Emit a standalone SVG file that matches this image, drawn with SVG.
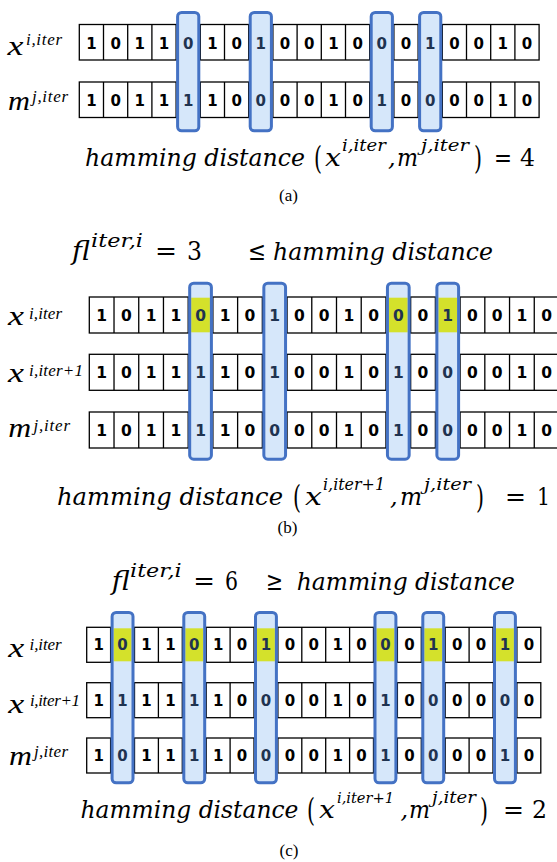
<svg xmlns="http://www.w3.org/2000/svg" xmlns:xlink="http://www.w3.org/1999/xlink" width="557" height="862" viewBox="0 0 557 862">
<style>
.cell{fill:#fff;stroke:#000;stroke-width:1.3}
.ln{fill:none;stroke:#000;stroke-width:1.3}
.hl{fill:#d6e7fa}
.hls{fill:none;stroke:#4472c4;stroke-width:3}
.yl{fill:#d4e12b}
.dg{font-family:"DejaVu Sans",sans-serif;font-weight:bold;text-anchor:middle;fill:#000}
.hd{fill:#1f3350}
.lb{font-family:"Liberation Serif",serif;font-style:italic;fill:#000}
.mt{font-family:"DejaVu Serif",serif;font-style:italic;fill:#000}
.up{font-family:"DejaVu Serif",serif;fill:#000}
.cap{font-family:"Liberation Serif",serif;text-anchor:middle;font-size:17px;fill:#000}
</style>
<defs>
<g id="rowA"><rect class="cell" x="79.3" y="0" width="459.8" height="35.5"/><path class="ln" d="M103.5 0V35.5M127.7 0V35.5M151.9 0V35.5M176.1 0V35.5M200.3 0V35.5M224.5 0V35.5M248.7 0V35.5M272.9 0V35.5M297.1 0V35.5M321.3 0V35.5M345.5 0V35.5M369.7 0V35.5M393.9 0V35.5M418.1 0V35.5M442.3 0V35.5M466.5 0V35.5M490.7 0V35.5M514.9 0V35.5"/></g>
<g id="rowB"><rect class="cell" x="89.3" y="0" width="469.7" height="36"/><path class="ln" d="M114.02 0V36M138.74 0V36M163.46 0V36M188.18 0V36M212.9 0V36M237.62 0V36M262.34 0V36M287.06 0V36M311.78 0V36M336.5 0V36M361.22 0V36M385.94 0V36M410.66 0V36M435.38 0V36M460.1 0V36M484.82 0V36M509.54 0V36M534.26 0V36"/></g>
<g id="rowC"><rect class="cell" x="86.7" y="0" width="454.1" height="35"/><path class="ln" d="M110.6 0V35M134.5 0V35M158.4 0V35M182.3 0V35M206.2 0V35M230.1 0V35M254 0V35M277.9 0V35M301.8 0V35M325.7 0V35M349.6 0V35M373.5 0V35M397.4 0V35M421.3 0V35M445.2 0V35M469.1 0V35M493 0V35M516.9 0V35"/></g>
</defs>
<rect width="557" height="862" fill="#fff"/>

<!-- ===== Panel (a) ===== -->
<g id="panel-a">
<g id="a-row-x">
<use xlink:href="#rowA" y="24.5"/>
</g>
<g id="a-row-m">
<use xlink:href="#rowA" y="82"/>
</g>
<g id="a-highlight-fill">
<rect class="hl" x="177.6" y="12.5" width="21.2" height="118.3" rx="4"/>
<rect class="hl" x="250.2" y="12.5" width="21.2" height="118.3" rx="4"/>
<rect class="hl" x="371.2" y="12.5" width="21.2" height="118.3" rx="4"/>
<rect class="hl" x="419.6" y="12.5" width="21.2" height="118.3" rx="4"/>
</g>
<g id="a-digits" font-size="15">
<text class="dg" y="48.5"><tspan x="91.4 115.6 139.8 164">1011</tspan><tspan class="hd" x="188.2">0</tspan><tspan x="212.4 236.6">10</tspan><tspan class="hd" x="260.8">1</tspan><tspan x="285 309.2 333.4 357.6">0010</tspan><tspan class="hd" x="381.8">0</tspan><tspan x="406">0</tspan><tspan class="hd" x="430.2">1</tspan><tspan x="454.4 478.6 502.8 527">0010</tspan></text>
<text class="dg" y="105.5"><tspan x="91.4 115.6 139.8 164">1011</tspan><tspan class="hd" x="188.2">1</tspan><tspan x="212.4 236.6">10</tspan><tspan class="hd" x="260.8">0</tspan><tspan x="285 309.2 333.4 357.6">0010</tspan><tspan class="hd" x="381.8">1</tspan><tspan x="406">0</tspan><tspan class="hd" x="430.2">0</tspan><tspan x="454.4 478.6 502.8 527">0010</tspan></text>
</g>
<g id="a-highlight-stroke">
<rect class="hls" x="177.6" y="12.5" width="21.2" height="118.3" rx="4"/>
<rect class="hls" x="250.2" y="12.5" width="21.2" height="118.3" rx="4"/>
<rect class="hls" x="371.2" y="12.5" width="21.2" height="118.3" rx="4"/>
<rect class="hls" x="419.6" y="12.5" width="21.2" height="118.3" rx="4"/>
</g>
<g id="a-labels">
<text class="lb" x="7.5" y="55" font-size="28" textLength="16" lengthAdjust="spacingAndGlyphs">x</text>
<text class="lb" x="26" y="45" font-size="17" textLength="36">i,iter</text>
<text class="lb" x="8" y="110" font-size="27" textLength="22" lengthAdjust="spacingAndGlyphs">m</text>
<text class="lb" x="32" y="102" font-size="17" textLength="36">j,iter</text>
</g>
<g id="a-formula">
<text class="mt" x="85" y="166" font-size="24" textLength="220" lengthAdjust="spacingAndGlyphs">hamming distance</text>
<text class="up" x="314" y="168.5" font-size="31" textLength="8" lengthAdjust="spacingAndGlyphs">(</text>
<text class="mt" x="325" y="166" font-size="24" textLength="16" lengthAdjust="spacingAndGlyphs">x</text>
<text class="mt" x="342" y="151" font-size="17" textLength="44" lengthAdjust="spacingAndGlyphs">i,iter</text>
<text class="mt" x="388" y="166" font-size="24">,</text>
<text class="mt" x="397" y="166" font-size="24" textLength="21" lengthAdjust="spacingAndGlyphs">m</text>
<text class="mt" x="421" y="151" font-size="17" textLength="48" lengthAdjust="spacingAndGlyphs">j,iter</text>
<text class="up" x="474" y="168.5" font-size="31" textLength="8" lengthAdjust="spacingAndGlyphs">)</text>
<text class="up" x="494" y="166" font-size="24" textLength="18" lengthAdjust="spacingAndGlyphs">=</text>
<text class="up" x="520" y="166" font-size="24" textLength="15" lengthAdjust="spacingAndGlyphs">4</text>
</g>
<text id="a-caption" class="cap" x="288.5" y="201">(a)</text>
</g>

<!-- ===== Panel (b) ===== -->
<g id="panel-b">
<g id="b-title">
<text class="mt" x="72" y="260" font-size="26" textLength="18" lengthAdjust="spacingAndGlyphs">fl</text>
<text class="mt" x="91" y="247" font-size="18" textLength="52" lengthAdjust="spacingAndGlyphs">iter,i</text>
<text class="up" x="155" y="260" font-size="26" textLength="22" lengthAdjust="spacingAndGlyphs">=</text>
<text class="up" x="187" y="260" font-size="26" textLength="15" lengthAdjust="spacingAndGlyphs">3</text>
<text class="up" x="248" y="260" font-size="26" textLength="18" lengthAdjust="spacingAndGlyphs">≤</text>
<text class="mt" x="273" y="260" font-size="24" textLength="220" lengthAdjust="spacingAndGlyphs">hamming distance</text>
</g>
<g id="b-row-x"><use xlink:href="#rowB" y="297"/></g>
<g id="b-row-x1"><use xlink:href="#rowB" y="354.3"/></g>
<g id="b-row-m"><use xlink:href="#rowB" y="412"/></g>
<g id="b-highlight-fill">
<rect class="hl" x="189.68" y="283.2" width="21.72" height="176" rx="4"/>
<rect class="hl" x="263.84" y="283.2" width="21.72" height="176" rx="4"/>
<rect class="hl" x="387.44" y="283.2" width="21.72" height="176" rx="4"/>
<rect class="hl" x="436.88" y="283.2" width="21.72" height="176" rx="4"/>
</g>
<g id="b-flipped">
<rect class="yl" x="191.18" y="297.7" width="18.72" height="34.6"/>
<rect class="yl" x="388.94" y="297.7" width="18.72" height="34.6"/>
<rect class="yl" x="438.38" y="297.7" width="18.72" height="34.6"/>
</g>
<g id="b-digits" font-size="15.5">
<text class="dg" y="321"><tspan x="101.66 126.38 151.1 175.82">1011</tspan><tspan class="hd" x="200.54">0</tspan><tspan x="225.26 249.98">10</tspan><tspan class="hd" x="274.7">1</tspan><tspan x="299.42 324.14 348.86 373.58">0010</tspan><tspan class="hd" x="398.3">0</tspan><tspan x="423.02">0</tspan><tspan class="hd" x="447.74">1</tspan><tspan x="472.46 497.18 521.9 546.62">0010</tspan></text>
<text class="dg" y="378"><tspan x="101.66 126.38 151.1 175.82">1011</tspan><tspan class="hd" x="200.54">1</tspan><tspan x="225.26 249.98">10</tspan><tspan class="hd" x="274.7">1</tspan><tspan x="299.42 324.14 348.86 373.58">0010</tspan><tspan class="hd" x="398.3">1</tspan><tspan x="423.02">0</tspan><tspan class="hd" x="447.74">0</tspan><tspan x="472.46 497.18 521.9 546.62">0010</tspan></text>
<text class="dg" y="435.8"><tspan x="101.66 126.38 151.1 175.82">1011</tspan><tspan class="hd" x="200.54">1</tspan><tspan x="225.26 249.98">10</tspan><tspan class="hd" x="274.7">0</tspan><tspan x="299.42 324.14 348.86 373.58">0010</tspan><tspan class="hd" x="398.3">1</tspan><tspan x="423.02">0</tspan><tspan class="hd" x="447.74">0</tspan><tspan x="472.46 497.18 521.9 546.62">0010</tspan></text>
</g>
<g id="b-highlight-stroke">
<rect class="hls" x="189.68" y="283.2" width="21.72" height="176" rx="4"/>
<rect class="hls" x="263.84" y="283.2" width="21.72" height="176" rx="4"/>
<rect class="hls" x="387.44" y="283.2" width="21.72" height="176" rx="4"/>
<rect class="hls" x="436.88" y="283.2" width="21.72" height="176" rx="4"/>
</g>
<g id="b-labels">
<text class="lb" x="8" y="324.5" font-size="28" textLength="16" lengthAdjust="spacingAndGlyphs">x</text>
<text class="lb" x="29" y="319" font-size="17" textLength="33">i,iter</text>
<text class="lb" x="8" y="381.5" font-size="28" textLength="16" lengthAdjust="spacingAndGlyphs">x</text>
<text class="lb" x="29" y="376" font-size="17" textLength="54">i,iter+1</text>
<text class="lb" x="8.3" y="436.5" font-size="27" textLength="23" lengthAdjust="spacingAndGlyphs">m</text>
<text class="lb" x="33.5" y="431" font-size="17" textLength="36.5">j,iter</text>
</g>
<g id="b-formula">
<text class="mt" x="57" y="505" font-size="24" textLength="226" lengthAdjust="spacingAndGlyphs">hamming distance</text>
<text class="up" x="293" y="507.5" font-size="31" textLength="8" lengthAdjust="spacingAndGlyphs">(</text>
<text class="mt" x="305" y="505" font-size="24" textLength="17" lengthAdjust="spacingAndGlyphs">x</text>
<text class="mt" x="323" y="490" font-size="16" textLength="62" lengthAdjust="spacingAndGlyphs">i,iter+1</text>
<text class="mt" x="390" y="505" font-size="24">,</text>
<text class="mt" x="400" y="505" font-size="24" textLength="22" lengthAdjust="spacingAndGlyphs">m</text>
<text class="mt" x="424" y="490" font-size="17" textLength="47" lengthAdjust="spacingAndGlyphs">j,iter</text>
<text class="up" x="476" y="507.5" font-size="31" textLength="8" lengthAdjust="spacingAndGlyphs">)</text>
<text class="up" x="505" y="505" font-size="24" textLength="21" lengthAdjust="spacingAndGlyphs">=</text>
<text class="up" x="537" y="505" font-size="24" textLength="13" lengthAdjust="spacingAndGlyphs">1</text>
</g>
<text id="b-caption" class="cap" x="287.5" y="533">(b)</text>
</g>

<!-- ===== Panel (c) ===== -->
<g id="panel-c">
<g id="c-title">
<text class="mt" x="111.7" y="590" font-size="26" textLength="18" lengthAdjust="spacingAndGlyphs">fl</text>
<text class="mt" x="130" y="577" font-size="18" textLength="51.7" lengthAdjust="spacingAndGlyphs">iter,i</text>
<text class="up" x="193.3" y="590" font-size="26" textLength="21.7" lengthAdjust="spacingAndGlyphs">=</text>
<text class="up" x="225" y="590" font-size="26" textLength="13" lengthAdjust="spacingAndGlyphs">6</text>
<text class="up" x="266" y="590" font-size="26" textLength="17" lengthAdjust="spacingAndGlyphs">≥</text>
<text class="mt" x="296.7" y="590" font-size="24" textLength="218.3" lengthAdjust="spacingAndGlyphs">hamming distance</text>
</g>
<g id="c-row-x"><use xlink:href="#rowC" y="627.3"/></g>
<g id="c-row-x1"><use xlink:href="#rowC" y="682.7"/></g>
<g id="c-row-m"><use xlink:href="#rowC" y="738"/></g>
<g id="c-highlight-fill">
<rect class="hl" x="112.1" y="612.5" width="20.9" height="170.3" rx="4"/>
<rect class="hl" x="183.8" y="612.5" width="20.9" height="170.3" rx="4"/>
<rect class="hl" x="255.5" y="612.5" width="20.9" height="170.3" rx="4"/>
<rect class="hl" x="375" y="612.5" width="20.9" height="170.3" rx="4"/>
<rect class="hl" x="422.8" y="612.5" width="20.9" height="170.3" rx="4"/>
<rect class="hl" x="494.5" y="612.5" width="20.9" height="170.3" rx="4"/>
</g>
<g id="c-flipped">
<rect class="yl" x="113.6" y="628.3" width="17.9" height="33"/>
<rect class="yl" x="185.3" y="628.3" width="17.9" height="33"/>
<rect class="yl" x="257" y="628.3" width="17.9" height="33"/>
<rect class="yl" x="376.5" y="628.3" width="17.9" height="33"/>
<rect class="yl" x="424.3" y="628.3" width="17.9" height="33"/>
<rect class="yl" x="496" y="628.3" width="17.9" height="33"/>
</g>
<g id="c-digits" font-size="15">
<text class="dg" y="650.4"><tspan x="98.65">1</tspan><tspan class="hd" x="122.55">0</tspan><tspan x="146.45 170.35">11</tspan><tspan class="hd" x="194.25">0</tspan><tspan x="218.15 242.05">10</tspan><tspan class="hd" x="265.95">1</tspan><tspan x="289.85 313.75 337.65 361.55">0010</tspan><tspan class="hd" x="385.45">0</tspan><tspan x="409.35">0</tspan><tspan class="hd" x="433.25">1</tspan><tspan x="457.15 481.05">00</tspan><tspan class="hd" x="504.95">1</tspan><tspan x="528.85">0</tspan></text>
<text class="dg" y="705.8"><tspan x="98.65">1</tspan><tspan class="hd" x="122.55">1</tspan><tspan x="146.45 170.35">11</tspan><tspan class="hd" x="194.25">1</tspan><tspan x="218.15 242.05">10</tspan><tspan class="hd" x="265.95">0</tspan><tspan x="289.85 313.75 337.65 361.55">0010</tspan><tspan class="hd" x="385.45">1</tspan><tspan x="409.35">0</tspan><tspan class="hd" x="433.25">0</tspan><tspan x="457.15 481.05">00</tspan><tspan class="hd" x="504.95">0</tspan><tspan x="528.85">0</tspan></text>
<text class="dg" y="761.1"><tspan x="98.65">1</tspan><tspan class="hd" x="122.55">0</tspan><tspan x="146.45 170.35">11</tspan><tspan class="hd" x="194.25">1</tspan><tspan x="218.15 242.05">10</tspan><tspan class="hd" x="265.95">0</tspan><tspan x="289.85 313.75 337.65 361.55">0010</tspan><tspan class="hd" x="385.45">1</tspan><tspan x="409.35">0</tspan><tspan class="hd" x="433.25">0</tspan><tspan x="457.15 481.05">00</tspan><tspan class="hd" x="504.95">1</tspan><tspan x="528.85">0</tspan></text>
</g>
<g id="c-highlight-stroke">
<rect class="hls" x="112.1" y="612.5" width="20.9" height="170.3" rx="4"/>
<rect class="hls" x="183.8" y="612.5" width="20.9" height="170.3" rx="4"/>
<rect class="hls" x="255.5" y="612.5" width="20.9" height="170.3" rx="4"/>
<rect class="hls" x="375" y="612.5" width="20.9" height="170.3" rx="4"/>
<rect class="hls" x="422.8" y="612.5" width="20.9" height="170.3" rx="4"/>
<rect class="hls" x="494.5" y="612.5" width="20.9" height="170.3" rx="4"/>
</g>
<g id="c-labels">
<text class="lb" x="8.3" y="657" font-size="28" textLength="16" lengthAdjust="spacingAndGlyphs">x</text>
<text class="lb" x="29.5" y="650" font-size="17" textLength="32.2">i,iter</text>
<text class="lb" x="8.3" y="713" font-size="28" textLength="16" lengthAdjust="spacingAndGlyphs">x</text>
<text class="lb" x="30" y="705.7" font-size="17" textLength="50">i,iter+1</text>
<text class="lb" x="9" y="765" font-size="27" textLength="23" lengthAdjust="spacingAndGlyphs">m</text>
<text class="lb" x="34" y="757" font-size="17" textLength="34">j,iter</text>
</g>
<g id="c-formula">
<text class="mt" x="80.4" y="818" font-size="24" textLength="218" lengthAdjust="spacingAndGlyphs">hamming distance</text>
<text class="up" x="307" y="820.5" font-size="31" textLength="8" lengthAdjust="spacingAndGlyphs">(</text>
<text class="mt" x="319" y="818" font-size="24" textLength="16" lengthAdjust="spacingAndGlyphs">x</text>
<text class="mt" x="337" y="803" font-size="15" textLength="57" lengthAdjust="spacingAndGlyphs">i,iter+1</text>
<text class="mt" x="400.5" y="818" font-size="24">,</text>
<text class="mt" x="409" y="818" font-size="24" textLength="21" lengthAdjust="spacingAndGlyphs">m</text>
<text class="mt" x="432" y="803" font-size="17" textLength="44" lengthAdjust="spacingAndGlyphs">j,iter</text>
<text class="up" x="480" y="820.5" font-size="31" textLength="8" lengthAdjust="spacingAndGlyphs">)</text>
<text class="up" x="503" y="818" font-size="24" textLength="21" lengthAdjust="spacingAndGlyphs">=</text>
<text class="up" x="532" y="818" font-size="24" textLength="15" lengthAdjust="spacingAndGlyphs">2</text>
</g>
<text id="c-caption" class="cap" x="289" y="856">(c)</text>
</g>
</svg>
